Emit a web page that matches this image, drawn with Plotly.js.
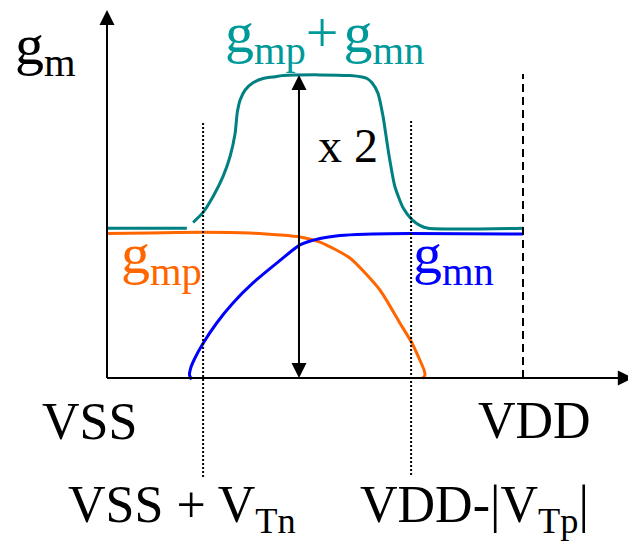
<!DOCTYPE html>
<html>
<head>
<meta charset="utf-8">
<script src="https://cdn.plot.ly/plotly-3.0.1.min.js"></script>
<style>html,body{margin:0;padding:0;background:#fff;}#chart{width:628px;height:541px;}</style>
</head>
<body>
<div id="chart"></div>
<script>
// ---- data (x: gate voltage, VSS = 0 .. VDD = 10; y: transconductance, g_mn plateau = 1) ----
const vgSum = [0, 1.92, null, 2.07, 2.31, 2.55, 2.79, 2.96, 3.08, 3.13, 3.20, 3.32, 3.51, 3.75, 3.99, 4.23, 5.12, 5.84, 6.13, 6.25, 6.37, 6.51, 6.64, 6.76, 6.92, 7.12, 7.33, 7.52, 7.72, 10];
const gmSum = [1.04, 1.04, null, 1.08, 1.15, 1.26, 1.40, 1.54, 1.70, 1.84, 1.93, 2.00, 2.05, 2.08, 2.09, 2.10, 2.105, 2.10, 2.09, 2.08, 2.05, 1.98, 1.81, 1.58, 1.33, 1.18, 1.10, 1.06, 1.04, 1.04];

const vgP = [0, 1.03, 2.31, 3.44, 4.16, 4.64, 5.12, 5.84, 6.56, 7.04, 7.33, 7.52, 7.62, 7.644, 7.58];
const gmP = [1.003, 1.007, 1.012, 1.007, 0.993, 0.979, 0.944, 0.833, 0.611, 0.382, 0.243, 0.125, 0.056, 0.021, -0.003];

const vgN = [2.03, 1.983, 2.012, 2.115, 2.315, 2.637, 3.029, 3.51, 4.087, 4.639, 5.12, 5.601, 6.202, 7.284, 10];
const gmN = [-0.01, 0.021, 0.069, 0.139, 0.243, 0.382, 0.521, 0.660, 0.799, 0.924, 0.969, 0.990, 0.999, 1.003, 1.0];

const thresholdX = [2.31, 7.31];   // VSS+VTn, VDD-|VTp|
const vddX = 10;
const peakX = 4.615;               // position of the "x 2" arrow
const peakY = 2.104;
const axisTipX = 12.64;
const axisTipY = 2.556;

// ---- layout helpers ----
const W = 628, H = 541;
const X_RANGE = [-2.572, 12.524];
const Y_RANGE = [-1.132, 2.625];
const FONT = 'Liberation Serif, Times New Roman, serif';
const TEAL_LINE = '#008080', TEAL_TEXT = '#009999', ORANGE = '#ff6600', BLUE = '#0000ff';

function lab(text, leftPx, baselinePx, size, color) {
  return {xref: 'paper', yref: 'paper', x: leftPx / W, y: Math.min(1, 1 - (baselinePx - 0.891 * size) / H),
    xanchor: 'left', yanchor: 'top', showarrow: false, text: text,
    font: {family: FONT, size: size, color: color}, borderpad: 0, borderwidth: 0};
}
function arrow(x, y, ax, ay, both) {
  const a = {xref: 'x', yref: 'y', axref: 'x', ayref: 'y', x: x, y: y, ax: ax, ay: ay, text: '',
    showarrow: true, arrowhead: 2, arrowsize: 1.5, arrowwidth: 2, arrowcolor: '#000',
    borderpad: 0, borderwidth: 0};
  if (both) { a.arrowside = 'end+start'; a.startarrowhead = 2; a.startarrowsize = 1.5; }
  return a;
}

const traces = [
  {x: vgSum, y: gmSum, mode: 'lines', line: {color: TEAL_LINE, width: 3, shape: 'spline', smoothing: 0.6}, hoverinfo: 'skip'},
  {x: vgP, y: gmP, mode: 'lines', line: {color: ORANGE, width: 3, shape: 'spline', smoothing: 0.6}, hoverinfo: 'skip'},
  {x: vgN, y: gmN, mode: 'lines', line: {color: BLUE, width: 3, shape: 'spline', smoothing: 0.6}, hoverinfo: 'skip'}
];

const shapes = [
  {type: 'line', xref: 'x', yref: 'y', x0: 0, x1: 0, y0: 0, y1: axisTipY - 0.05, line: {color: '#000', width: 2}},
  {type: 'line', xref: 'x', yref: 'y', x0: 0, x1: axisTipX - 0.2, y0: 0, y1: 0, line: {color: '#000', width: 2}},
  {type: 'line', xref: 'x', yref: 'y', x0: thresholdX[0], x1: thresholdX[0], y0: -0.688, y1: 1.778, line: {color: '#000', width: 2, dash: '2px,2px'}},
  {type: 'line', xref: 'x', yref: 'y', x0: thresholdX[1], x1: thresholdX[1], y0: -0.674, y1: 1.785, line: {color: '#000', width: 2, dash: '2px,2px'}},
  {type: 'line', xref: 'x', yref: 'y', x0: vddX, x1: vddX, y0: 0, y1: 2.111, line: {color: '#000', width: 2, dash: '8px,5px'}}
];

const annotations = [
  arrow(0, axisTipY, 0, 1.5),
  arrow(axisTipX, 0, 10.5, 0),
  arrow(peakX, peakY, peakX, 0, true),
  lab('g<sub>m</sub>', 15, 64, 58, '#000'),
  lab('g<sub>mp</sub>+\u200Ag<sub>mn</sub>', 225, 51.5, 58, TEAL_TEXT),
  lab('g<sub>mp</sub>', 121, 273, 58, ORANGE),
  lab('g<sub>mn</sub>', 413, 273, 58, BLUE),
  lab('x 2', 318, 162, 48, '#000'),
  lab('VSS', 42, 439, 52, '#000'),
  lab('VDD', 478, 438, 52, '#000'),
  lab('VSS + V<sub>Tn</sub>', 68, 522, 52, '#000'),
  lab('VDD-|V<sub>Tp</sub>|', 360, 522, 52, '#000')
];

const layout = {
  width: W, height: H,
  margin: {l: 0, r: 0, t: 0, b: 0, pad: 0},
  paper_bgcolor: '#fff', plot_bgcolor: '#fff',
  showlegend: false,
  xaxis: {range: X_RANGE, visible: false, fixedrange: true},
  yaxis: {range: Y_RANGE, visible: false, fixedrange: true},
  shapes: shapes,
  annotations: annotations
};

Plotly.newPlot('chart', traces, layout, {staticPlot: true, displayModeBar: false});
</script>
</body>
</html>
